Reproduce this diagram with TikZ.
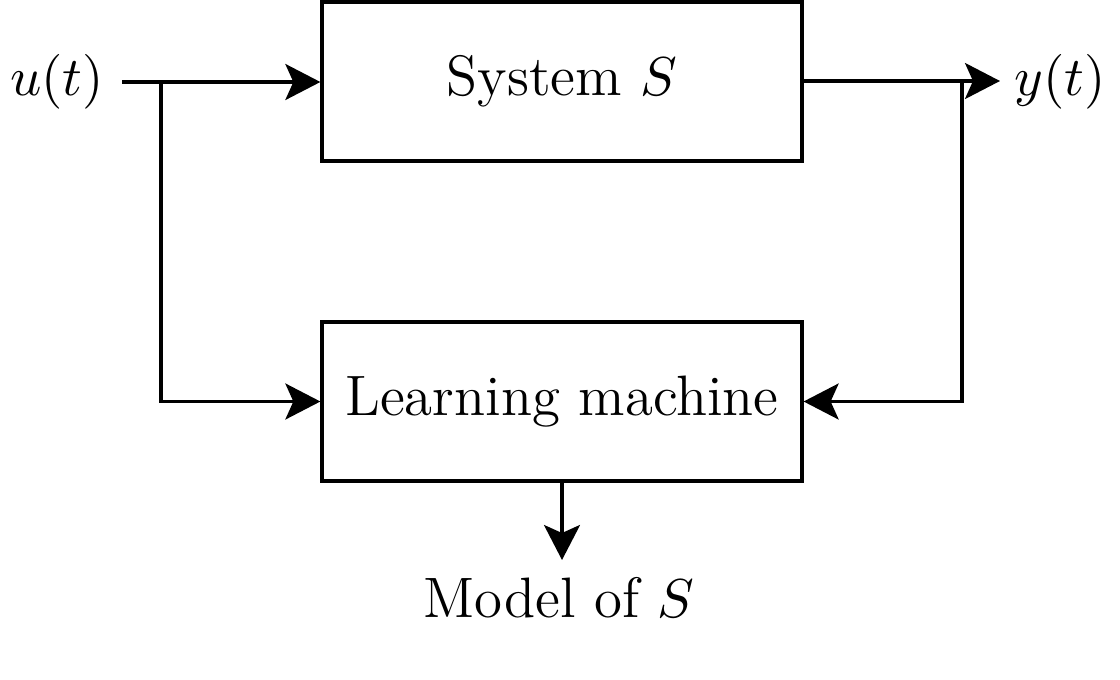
\documentclass[tikz,border=0pt]{standalone}
\usetikzlibrary{arrows.meta}
\begin{document}
\begin{tikzpicture}[x=0.2pt,y=-0.2pt,
  box/.style={draw,line width=0.65pt,minimum width=96pt,minimum height=31.8pt,inner sep=0pt,font=\fontsize{11.4}{13}\selectfont},
  lbl/.style={inner sep=0pt,font=\fontsize{11.4}{13}\selectfont},
  wire/.style={line width=0.65pt},
  arr/.style={wire,-{Stealth[length=7pt,width=7.2pt,inset=1.6pt]}}]
\useasboundingbox (0,0) rectangle (1120,680);
\node[box] (sys) at (562,81.5) {System $S$};
\node[box] (lm) at (562,401.5) {Learning machine};
\node[lbl] (ut) at (57,82) {$u(t)$};
\node[lbl] (yt) at (1060,82) {$y(t)$};
\node[lbl] (mod) at (559,598) {Model of $S$};
\coordinate (in) at (122,82);
\coordinate (b1) at (161,82);
\coordinate (out) at (1000,81);
\coordinate (b2) at (962,81);
\coordinate (mt) at (562,560);
\draw[arr] (in) -- (sys.west |- in);
\draw[arr] (b1) |- (lm.west);
\draw[arr] (sys.east |- out) -- (out);
\draw[arr] (b2) |- (lm.east);
\draw[arr] (lm.south) -- (mt);
\end{tikzpicture}
\end{document}
